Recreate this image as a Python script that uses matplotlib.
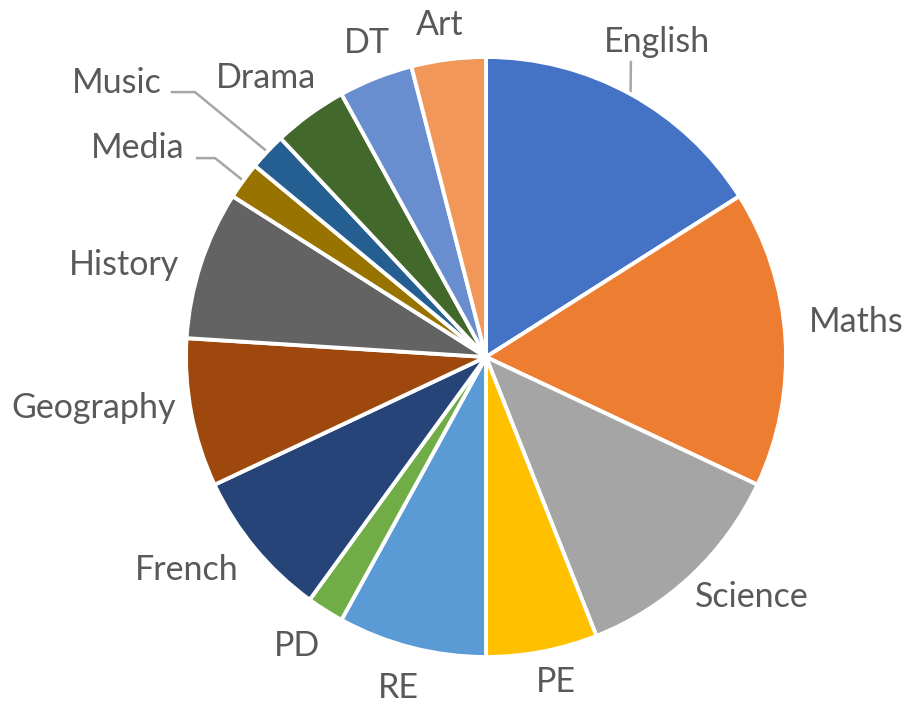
import matplotlib
matplotlib.use('Agg')
import matplotlib.pyplot as plt
import numpy as np

# subjects, in order clockwise from 12 o'clock
subjects = ['English', 'Maths', 'Science', 'PE', 'RE', 'PD', 'French',
            'Geography', 'History', 'Media', 'Music', 'Drama', 'DT', 'Art']
lessons = [8, 8, 6, 3, 4, 1, 4, 4, 4, 1, 1, 2, 2, 2]
colours = ['#4472C4', '#ED7D31', '#A5A5A5', '#FFC000', '#5B9BD5', '#70AD47',
           '#264478', '#9E480E', '#636363', '#997300', '#255E91', '#43682B',
           '#698ED0', '#F1975A']

# label layout (centre x, baseline y) in units of the pie radius
label_pos = [(0.57, 1.017), (1.233, 0.083), (0.887, -0.833), (0.233, -1.117),
             (-0.293, -1.137), (-0.63, -0.997), (-0.997, -0.743),
             (-1.307, -0.203), (-1.207, 0.273), (-1.16, 0.663),
             (-1.23, 0.88), (-0.733, 0.897), (-0.397, 1.013), (-0.153, 1.073)]
# leader lines: subject -> point near the label where the line starts
leaders = {'English': [(0.483, 0.983)],
           'Media': [(-0.963, 0.663), (-0.903, 0.663)],
           'Music': [(-1.047, 0.883), (-0.97, 0.883)]}

fig = plt.figure(figsize=(9.1, 7.05), dpi=100)
ax = fig.add_axes([186 / 910, 48 / 705, 600 / 910, 600 / 705])

wedges, _ = ax.pie(lessons, colors=colours, startangle=90, counterclock=False,
                   radius=1, wedgeprops=dict(edgecolor='white', linewidth=2.8))
ax.set_xlim(-1, 1)
ax.set_ylim(-1, 1)
ax.axis('off')

txt_col = '#595959'
for i, name in enumerate(subjects):
    x, y = label_pos[i]
    ax.text(x, y, name, ha='center', va='baseline', fontsize=24.5,
            family='Lato', color=txt_col, clip_on=False)
    if name in leaders:
        w = wedges[i]
        mid = np.deg2rad((w.theta1 + w.theta2) / 2)
        end = (np.cos(mid), np.sin(mid))
        pts = leaders[name] + [end]
        ax.plot([p[0] for p in pts], [p[1] for p in pts], color='#A6A6A6',
                lw=1.8, clip_on=False, zorder=0)

fig.savefig('out.png', dpi=100)
